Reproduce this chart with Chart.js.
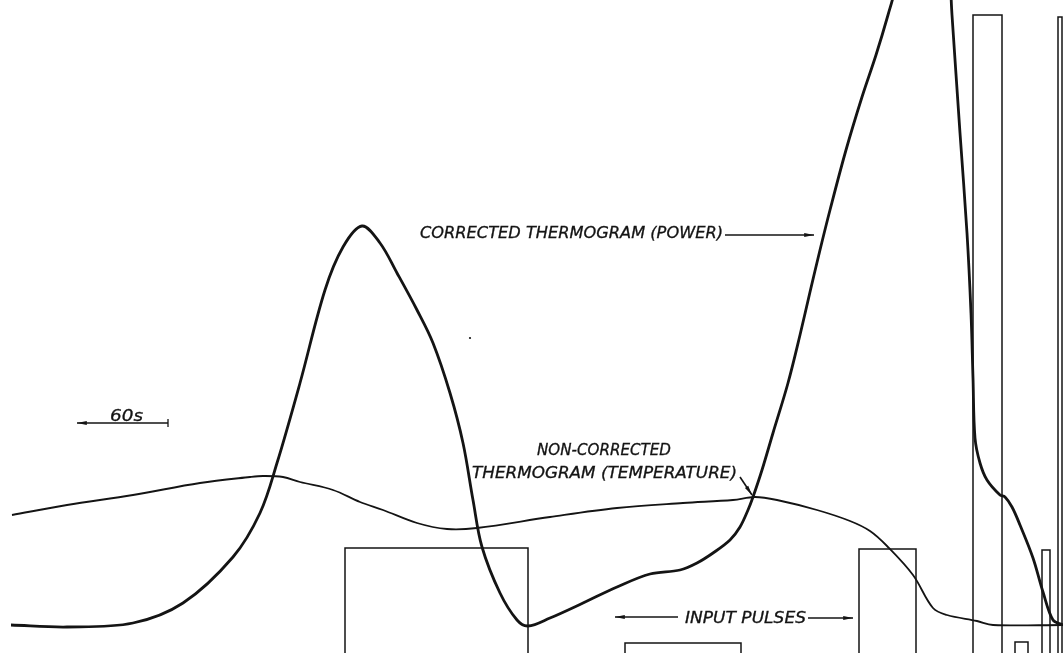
<!DOCTYPE html>
<html>
<head>
<meta charset="utf-8">
<script src="https://cdn.jsdelivr.net/npm/chart.js@4/dist/chart.umd.min.js"></script>
<style>
  body { margin: 0; background: #fff; }
  #wrap { width: 1063px; height: 653px; position: relative; }
</style>
</head>
<body>
<div id="wrap"><canvas id="chart"></canvas></div>
<script>
// chart-paper units: x = time along the trace, y = pen deflection above the bottom edge
var powerTime = [11, 67, 133, 183, 233, 260, 277, 300, 325, 343, 362, 380, 397, 417, 433, 450, 463, 473, 482, 500,
    517, 528, 550, 583, 617, 650, 680, 697, 713, 730, 740, 748, 753, 762, 773, 788, 800, 810, 820, 830,
    846, 862, 876, 888, 895, 921, 948, 952, 960, 967, 971, 973, 975, 980, 987, 1000, 1005, 1012, 1020, 1033,
    1043, 1053, 1063];
var powerValues = [28, 26, 30, 50, 96, 140, 190, 270, 363, 406, 427, 410, 380, 343, 310, 260, 210, 153, 106, 60,
    33, 27, 35, 50, 66, 79, 83, 90, 100, 113, 126, 143, 156, 183, 220, 270, 318, 361, 403, 443,
    503, 556, 598, 638, 665, 853, 698, 638, 520, 420, 340, 275, 215, 190, 173, 158, 156, 146, 128, 95,
    61, 33, 28];

var tempTime = [12, 67, 133, 200, 250, 263, 283, 300, 333, 360, 383, 417, 447, 477, 550, 617, 683, 733, 755, 777,
    817, 850, 870, 887, 913, 933, 947, 977, 993, 1063];
var tempValues = [138, 148, 158, 170, 176, 177, 176, 171, 163, 151, 143, 130, 124, 125, 136, 145, 150, 153, 156, 153,
    143, 132, 122, 107, 78, 45, 38, 32, 28, 28];

var pulseStart = [345, 625, 859, 973, 1015, 1042, 1058];
var pulseEnd   = [528, 741, 916, 1002, 1028, 1050, 1062];
var pulseLevel = [105, 10, 104, 638, 11, 103, 636];

function to_points(xs, ys) {
    var pts = [];
    for (var i = 0; i < xs.length; i++) pts.push({x: xs[i], y: ys[i]});
    return pts;
}

function pulse_points() {
    var pts = [];
    for (var i = 0; i < pulseStart.length; i++) {
        pts.push({x: pulseStart[i], y: -30});
        pts.push({x: pulseStart[i], y: pulseLevel[i]});
        pts.push({x: pulseEnd[i], y: pulseLevel[i]});
        pts.push({x: pulseEnd[i], y: -30});
        pts.push({x: pulseEnd[i], y: null});
    }
    return pts;
}

const INK = '#141414';
const FONT = 'italic 15px "DejaVu Sans"';

// hand-lettered annotations, placed in chart units
var notes = [
    {text: 'CORRECTED THERMOGRAM (POWER)', x0: 420, x1: 723, y: 415},
    {text: 'NON-CORRECTED', x0: 537, x1: 671, y: 198},
    {text: 'THERMOGRAM (TEMPERATURE)', x0: 472, x1: 737, y: 175},
    {text: 'INPUT PULSES', x0: 685, x1: 806, y: 30},
    {text: '60s', x0: 110, x1: 143, y: 232}
];
var leaders = [
    {x0: 725, y0: 418, x1: 814, y1: 418},
    {x0: 740, y0: 176, x1: 752, y1: 158},
    {x0: 678, y0: 36, x1: 615, y1: 36},
    {x0: 808, y0: 35, x1: 853, y1: 35},
    {x0: 168, y0: 230, x1: 77, y1: 230}
];

function arrow(ctx, ax, ay, bx, by) {
    ctx.beginPath();
    ctx.moveTo(ax, ay);
    ctx.lineTo(bx, by);
    ctx.stroke();
    const ang = Math.atan2(by - ay, bx - ax);
    const len = 10, w = 0.2;
    ctx.beginPath();
    ctx.moveTo(bx, by);
    ctx.lineTo(bx - len * Math.cos(ang - w), by - len * Math.sin(ang - w));
    ctx.lineTo(bx - len * Math.cos(ang + w), by - len * Math.sin(ang + w));
    ctx.closePath();
    ctx.fill();
}

const notesPlugin = {
    id: 'notes',
    afterDatasetsDraw(chart) {
        const ctx = chart.ctx;
        const xs = chart.scales.x, ys = chart.scales.y;
        ctx.save();
        ctx.fillStyle = INK;
        ctx.strokeStyle = INK;
        ctx.font = FONT;
        ctx.textBaseline = 'alphabetic';
        for (const n of notes) {
            const left = xs.getPixelForValue(n.x0);
            const right = xs.getPixelForValue(n.x1);
            const base = ys.getPixelForValue(n.y);
            const w = ctx.measureText(n.text).width;
            ctx.save();
            ctx.translate(left, base);
            ctx.scale((right - left) / w, 1);
            ctx.lineWidth = 0.3;
            ctx.fillText(n.text, 0, 0);
            ctx.strokeText(n.text, 0, 0);
            ctx.restore();
        }
        ctx.lineWidth = 1.6;
        for (const l of leaders) {
            arrow(ctx, xs.getPixelForValue(l.x0), ys.getPixelForValue(l.y0),
                  xs.getPixelForValue(l.x1), ys.getPixelForValue(l.y1));
        }
        // end tick of the 60 s bar
        const tx = xs.getPixelForValue(168);
        ctx.lineWidth = 1.3;
        ctx.beginPath();
        ctx.moveTo(tx, ys.getPixelForValue(234));
        ctx.lineTo(tx, ys.getPixelForValue(226));
        ctx.stroke();
        // stray speck on the scan
        ctx.beginPath();
        ctx.arc(xs.getPixelForValue(470), ys.getPixelForValue(315), 1.1, 0, Math.PI * 2);
        ctx.fill();
        ctx.restore();
    }
};

function draw_chart() {
    const ctx = document.getElementById('chart').getContext('2d');
    new Chart(ctx, {
        type: 'scatter',
        data: {
            datasets: [
                {
                    label: 'Input pulses',
                    data: pulse_points(),
                    showLine: true,
                    borderColor: INK,
                    borderWidth: 1.5,
                    tension: 0,
                    pointRadius: 0,
                    spanGaps: false
                },
                {
                    label: 'Non-corrected thermogram (temperature)',
                    data: to_points(tempTime, tempValues),
                    showLine: true,
                    borderColor: INK,
                    borderWidth: 1.8,
                    tension: 0.35,
                    pointRadius: 0
                },
                {
                    label: 'Corrected thermogram (power)',
                    data: to_points(powerTime, powerValues),
                    showLine: true,
                    borderColor: INK,
                    borderWidth: 2.8,
                    tension: 0.35,
                    pointRadius: 0
                }
            ]
        },
        options: {
            responsive: true,
            maintainAspectRatio: false,
            animation: false,
            layout: { padding: 0 },
            plugins: {
                legend: { display: false },
                tooltip: { enabled: false }
            },
            scales: {
                x: { type: 'linear', min: 0, max: 1063, display: false },
                y: { type: 'linear', min: 0, max: 653, display: false }
            }
        },
        plugins: [notesPlugin]
    });
}

draw_chart();
</script>
</body>
</html>
